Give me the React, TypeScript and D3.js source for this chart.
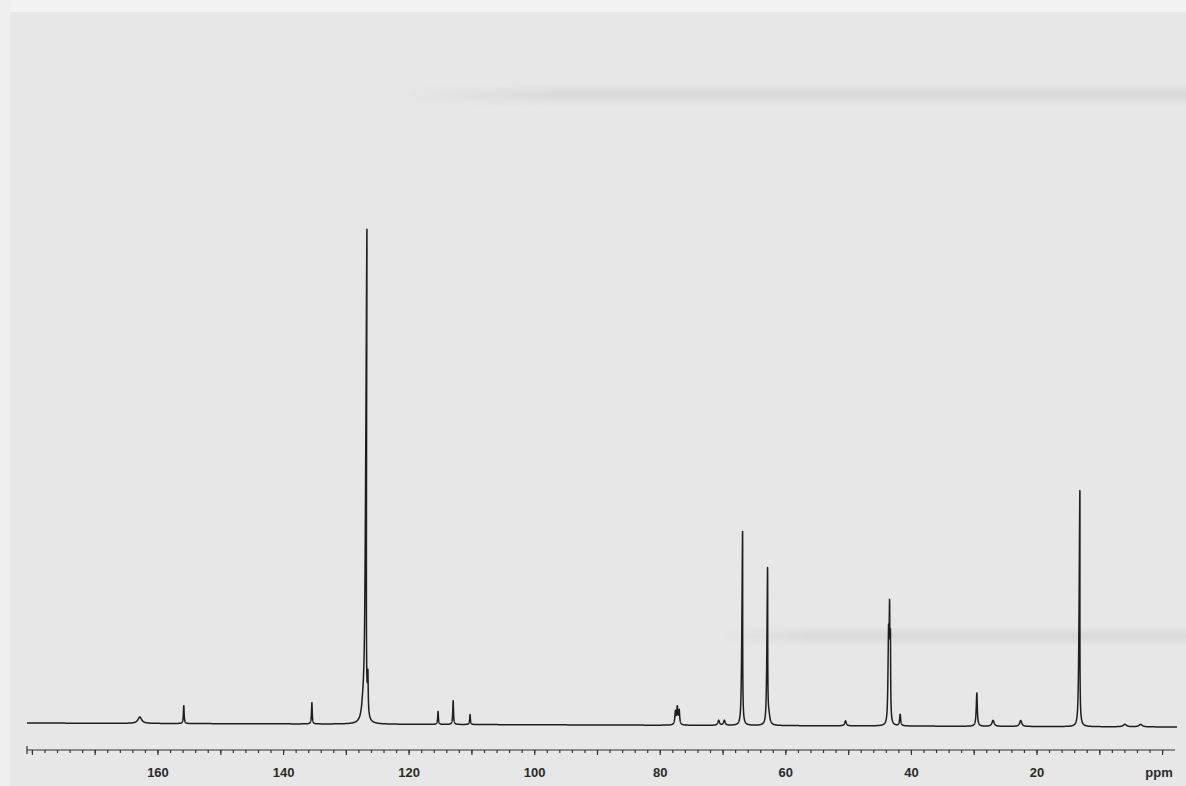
import React, { useMemo } from "react";
import * as d3 from "d3";

// ---- data (13C NMR, ppm) ----
const peakPpm = [162.9, 155.9, 135.5, 127.3, 127.0, 126.6, 115.4, 113.0, 110.3, 77.6, 77.3, 77.0, 70.7, 69.8, 67.0, 63.0, 62.7, 50.5, 43.7, 43.55, 43.4, 41.8, 29.6, 27.0, 22.6, 13.3, 6.0, 3.5];
const peakHeight = [1.3, 3.6, 4.3, 4.5, 97.5, 7.4, 2.6, 4.8, 2.0, 2.6, 3.4, 2.8, 1.0, 1.0, 39.2, 31.5, 1.5, 1.0, 16, 20, 15, 2.3, 6.7, 1.2, 1.2, 47.7, 0.5, 0.5];
const peakWidth = [0.35, 0.07, 0.07, 0.3, 0.07, 0.07, 0.07, 0.07, 0.07, 0.1, 0.1, 0.1, 0.15, 0.15, 0.07, 0.07, 0.2, 0.15, 0.07, 0.07, 0.07, 0.1, 0.1, 0.2, 0.2, 0.07, 0.3, 0.3];

const tickLabels = [160, 140, 120, 100, 80, 60, 40, 20];
const minorTicks = d3.range(180, -1, -2);
const majorTicks = d3.range(180, -1, -10);

const W = 1186;
const H = 786;

export default function App() {
  const x = d3.scaleLinear().domain([160, 20]).range([158, 1037]);
  const baseline = 725;
  const y = d3.scaleLinear().domain([0, 100]).range([baseline, baseline - 497]);

  const path = useMemo(() => {
    const pts: [number, number][] = [];
    const lo = x.invert(1177);
    const hi = x.invert(27);
    for (let p = hi; p >= lo; p -= 0.01) {
      let v = 0;
      for (let i = 0; i < peakPpm.length; i++) {
        const w = peakWidth[i];
        const d = p - peakPpm[i];
        v += peakHeight[i] * (w * w) / (w * w + d * d);
      }
      pts.push([p, v]);
    }
    return d3
      .line<[number, number]>()
      .x((d) => x(d[0]))
      .y((d) => y(d[1]))(pts) as string;
  }, []);

  const axisY = 750;
  const ppmLeft = x.invert(27);
  const ppmRight = x.invert(1175);

  return (
    <svg
      width={W}
      height={H}
      style={{ position: "absolute", left: 0, top: 0, display: "block" }}
    >
      <defs>
        <linearGradient id="band" x1="0" x2="0" y1="0" y2="1">
          <stop offset="0" stopColor="#c8c8c8" stopOpacity="0" />
          <stop offset="0.5" stopColor="#c4c4c4" stopOpacity="0.4" />
          <stop offset="1" stopColor="#c8c8c8" stopOpacity="0" />
        </linearGradient>
        <linearGradient id="fadeL" x1="0" x2="1" y1="0" y2="0">
          <stop offset="0" stopColor="#fff" stopOpacity="0" />
          <stop offset="0.2" stopColor="#fff" stopOpacity="1" />
          <stop offset="1" stopColor="#fff" stopOpacity="1" />
        </linearGradient>
        <mask id="mL1" maskContentUnits="userSpaceOnUse">
          <rect x={400} y={0} width={W - 400} height={H} fill="url(#fadeL)" />
        </mask>
        <mask id="mL2" maskContentUnits="userSpaceOnUse">
          <rect x={720} y={0} width={W - 720} height={H} fill="url(#fadeL)" />
        </mask>
      </defs>
      <rect x={0} y={0} width={W} height={H} fill="#e7e7e7" />
      <rect x={0} y={0} width={W} height={12} fill="#f2f2f2" />
      <rect x={0} y={0} width={10} height={H} fill="#efefef" />
      <rect x={400} y={84} width={W - 400} height={22} fill="url(#band)" mask="url(#mL1)" />
      <rect x={720} y={626} width={W - 720} height={20} fill="url(#band)" mask="url(#mL2)" />

      <g transform="rotate(0.2, 600, 725)">
        <path d={path} fill="none" stroke="#1e1e1e" strokeWidth={1.5} strokeLinejoin="round" />
      </g>

      <g stroke="#333" strokeWidth={1.2}>
        <line x1={x(ppmLeft)} x2={x(ppmRight)} y1={axisY} y2={axisY} />
        <line x1={x(ppmLeft)} x2={x(ppmLeft)} y1={axisY - 4} y2={axisY + 4} />
        {minorTicks.map((t) => (
          <line key={"m" + t} x1={x(t)} x2={x(t)} y1={axisY} y2={axisY + 3} />
        ))}
        {majorTicks.map((t) => (
          <line key={"M" + t} x1={x(t)} x2={x(t)} y1={axisY} y2={axisY + 5} />
        ))}
      </g>
      <g
        fontFamily="Liberation Sans, Arial, sans-serif"
        fontWeight="bold"
        fontSize={13}
        fill="#2a2a2a"
        textAnchor="middle"
      >
        {tickLabels.map((t) => (
          <text key={t} x={x(t)} y={777}>
            {t}
          </text>
        ))}
        <text x={1159} y={777}>ppm</text>
      </g>
    </svg>
  );
}
